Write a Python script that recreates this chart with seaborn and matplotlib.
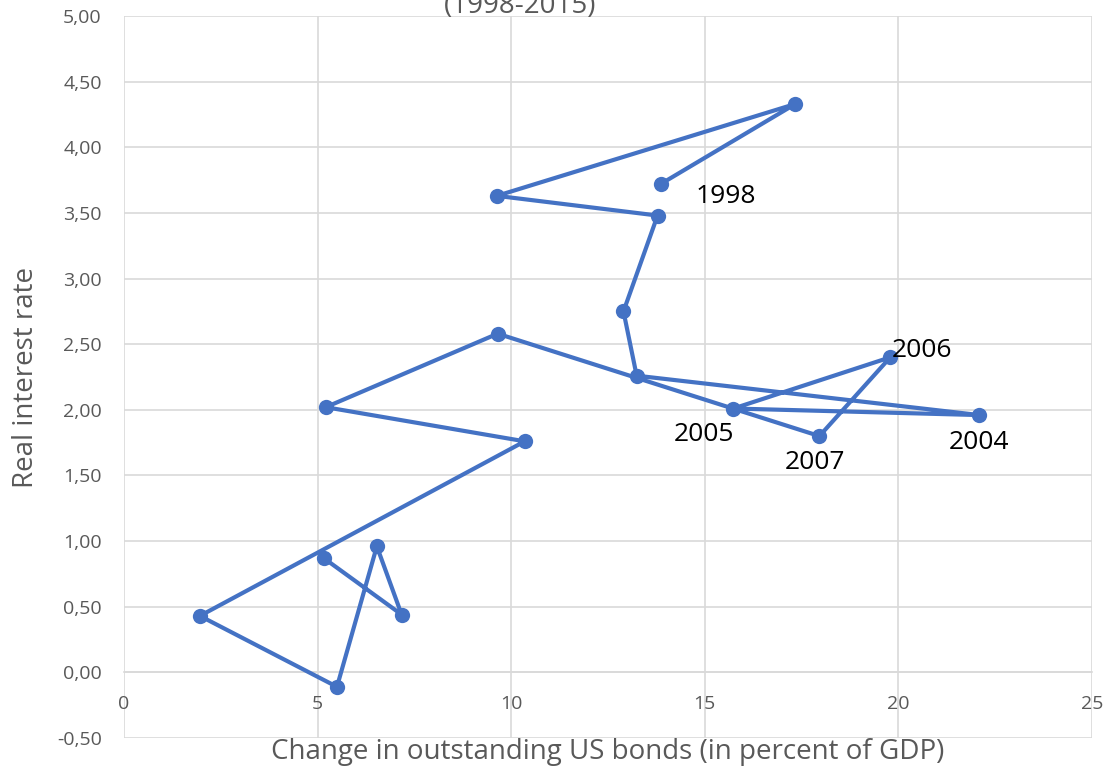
import matplotlib
matplotlib.use("Agg")
import matplotlib.pyplot as plt
import numpy as np
import pandas as pd
import seaborn as sns

# --- Data (1998-2015, connected in year order) ---
years = list(range(1998, 2016))
bonds_change = [13.86, 17.34, 9.63, 13.78, 12.90, 13.24, 22.09, 15.74, 19.79,
                17.96, 9.65, 5.21, 10.35, 1.96, 5.50, 6.53, 7.17, 5.16]
real_rate = [3.72, 4.33, 3.63, 3.48, 2.75, 2.26, 1.96, 2.01, 2.40,
             1.80, 2.58, 2.02, 1.76, 0.43, -0.11, 0.96, 0.44, 0.87]

# which years get a label, and where the label sits (offset in points)
labelled_years = [1998, 2004, 2005, 2006, 2007]
label_offsets = {1998: (47, -9), 2004: (0, -20), 2005: (-21, -19),
                 2006: (23, 5), 2007: (-3, -19)}

x_ticks = [0, 5, 10, 15, 20, 25]
y_ticks = [-0.5, 0, 0.5, 1, 1.5, 2, 2.5, 3, 3.5, 4, 4.5, 5]

BLUE = "#4472C4"
GRID = "#D9D9D9"
TEXT = "#595959"

sns.set_theme(style="white")
plt.rcParams["font.family"] = ["Open Sans", "DejaVu Sans"]

df = pd.DataFrame({"year": years, "bonds": bonds_change, "rate": real_rate})

fig = plt.figure(figsize=(11.05, 7.72), dpi=100)
ax = fig.add_axes([124 / 1105, 1 - 738 / 772, (1092 - 124) / 1105, (738 - 16) / 772])

sns.lineplot(data=df, x="bonds", y="rate", sort=False, estimator=None,
             color=BLUE, linewidth=3, marker="o", markersize=11,
             markeredgewidth=0, ax=ax, zorder=3)

for yr in labelled_years:
    row = df[df["year"] == yr].iloc[0]
    dx, dy = label_offsets[yr]
    ax.annotate(str(yr), (row["bonds"], row["rate"]), xytext=(dx, dy),
                textcoords="offset points", ha="center", va="center",
                fontsize=19, color="black", zorder=4)

ax.set_xlim(0, 25)
ax.set_ylim(-0.5, 5)
ax.set_xticks(x_ticks)
ax.set_yticks(y_ticks)
ax.set_xticklabels([str(v) for v in x_ticks])
ax.set_yticklabels([f"{v:.2f}".replace(".", ",") for v in y_ticks])
ax.tick_params(axis="both", length=0, labelsize=14, labelcolor=TEXT)
ax.tick_params(axis="x", pad=16)
ax.tick_params(axis="y", pad=16)

ax.grid(True, color=GRID, linewidth=1.2)
ax.set_axisbelow(True)
for side in ["top", "right", "left"]:
    ax.spines[side].set_visible(False)
ax.spines["bottom"].set_position(("data", 0))
ax.spines["bottom"].set_color(GRID)
ax.spines["bottom"].set_linewidth(1.2)

ax.set_xlabel("")
ax.set_ylabel("")
fig.text(608 / 1105, 1 - 752 / 772, "Change in outstanding US bonds (in percent of GDP)",
         ha="center", va="center", fontsize=20, color=TEXT)
fig.text(26 / 1105, 1 - 378 / 772, "Real interest rate", rotation=90,
         ha="center", va="center", fontsize=20, color=TEXT)
# title sits mostly above the canvas in the reference, only its lower part shows
fig.text(520 / 1105, 1 - 13 / 772, "(1998-2015)", ha="center", va="baseline",
         fontsize=20, color=TEXT)

fig.savefig("out.png", dpi=100)
